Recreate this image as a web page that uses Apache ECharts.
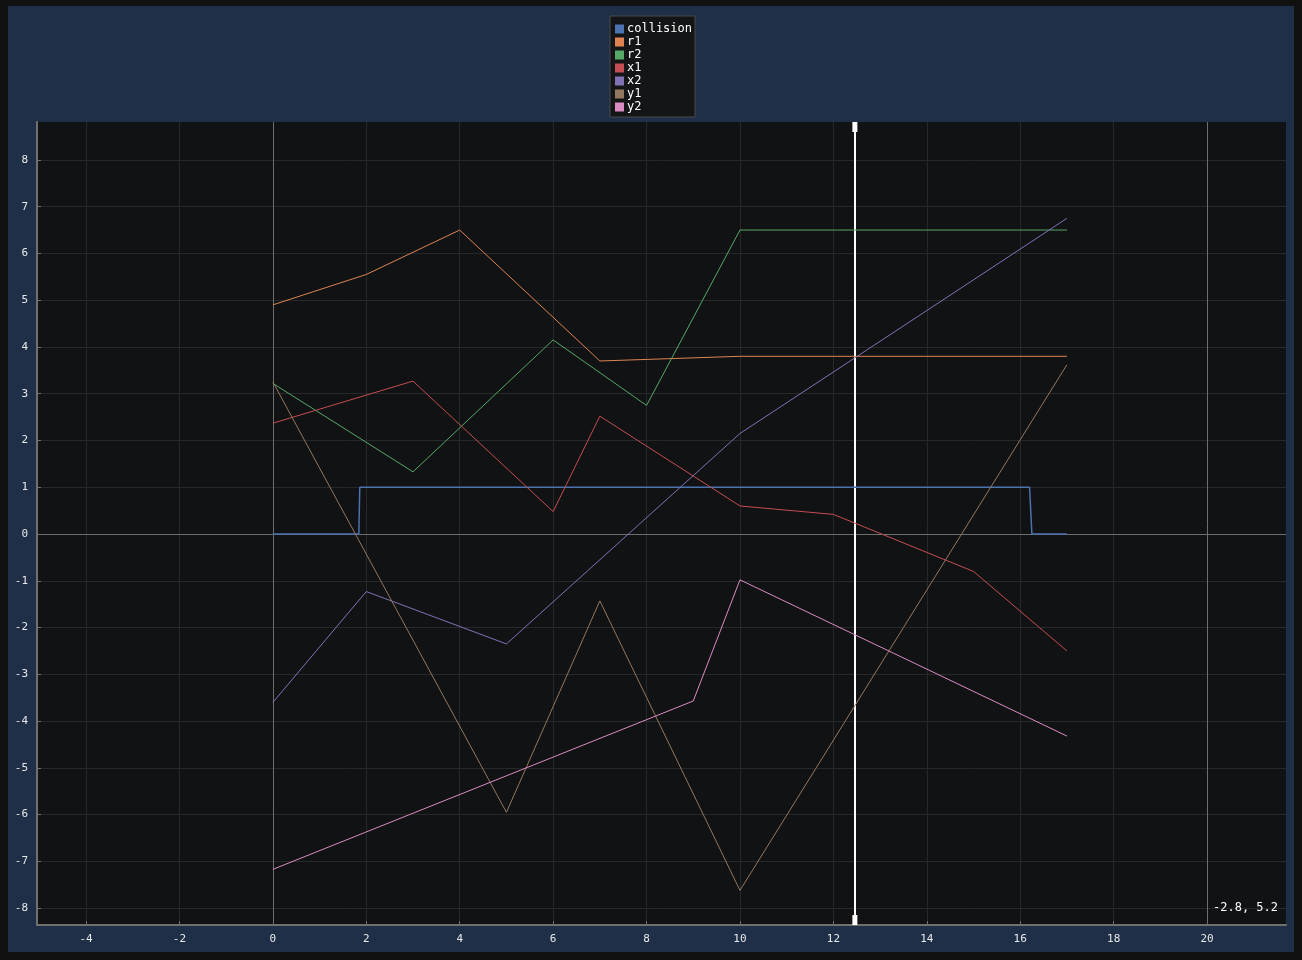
<!DOCTYPE html>
<html><head><meta charset="utf-8">
<script src="https://cdn.jsdelivr.net/npm/echarts@6/dist/echarts.min.js"></script>
<style>html,body{margin:0;padding:0;background:#111111;}#c{width:1302px;height:960px;}</style>
</head><body><div id="c"></div>
<script>
const seriesNames = ['collision','r1','r2','x1','x2','y1','y2'];
const colors = ['#4c72b0','#dd8452','#55a868','#c44e52','#8172b3','#937860','#da8bc3'];
const collision = [[0,0],[1.84,0],[1.86,1],[16.2,1],[16.25,0],[17,0]];
const r1 = [[0,4.9],[2,5.55],[4,6.5],[7,3.7],[10,3.8],[17,3.8]];
const r2 = [[0,3.22],[3,1.33],[6,4.15],[8,2.75],[10,6.5],[17,6.5]];
const x1 = [[0,2.37],[3,3.27],[6,0.48],[7,2.52],[10,0.6],[12,0.42],[15,-0.8],[17,-2.5]];
const x2 = [[0,-3.6],[2,-1.23],[5,-2.35],[10,2.15],[17,6.75]];
const y1 = [[0,3.25],[5,-5.95],[7,-1.43],[10,-7.62],[17,3.62]];
const y2 = [[0,-7.17],[9,-3.57],[10,-0.98],[17,-4.32]];
const xTicks = [-4,-2,0,2,4,6,8,10,12,14,16,18,20];
const yTicks = [-8,-7,-6,-5,-4,-3,-2,-1,0,1,2,3,4,5,6,7,8];
const xRange = [-5.05, 21.69];
const yRange = [-8.36, 8.81];
const cursorX = 12.46;
const cursorText = '-2.8, 5.2';
const refLinesX = [0, 20];
const refLinesY = [0];

const data = [collision, r1, r2, x1, x2, y1, y2];
const font = 'DejaVu Sans Mono';

const series = seriesNames.map((n, i) => ({
  name: n, type: 'line', data: data[i], showSymbol: false, symbol: 'none',
  lineStyle: {width: i === 0 ? 1.5 : 1, color: colors[i]}, itemStyle: {color: colors[i]},
  animation: false, z: 5
}));
series.push({
  name: '_ref', type: 'line', data: [], silent: true, animation: false,
  markLine: {
    silent: true, symbol: 'none', animation: false, label: {show: false},
    lineStyle: {color: '#6e6e6e', width: 1, type: 'solid'},
    data: refLinesX.map(v => ({xAxis: v})).concat(refLinesY.map(v => ({yAxis: v})))
  }, z: 2
});
series.push({
  name: '_cursor', type: 'line', data: [], silent: true, animation: false,
  markLine: {
    silent: true, symbol: 'none', animation: false, label: {show: false},
    lineStyle: {color: '#ffffff', width: 2, type: 'solid'},
    data: [{xAxis: cursorX}]
  },
  markPoint: {
    silent: true, animation: false, label: {show: false},
    symbol: 'rect', symbolSize: [5, 10], itemStyle: {color: '#ffffff'},
    data: [{coord: [cursorX, yRange[1]], symbolOffset: [0, 5]}, {coord: [cursorX, yRange[0]], symbolOffset: [0, -5]}]
  }, z: 10
});

const chart = echarts.init(document.getElementById('c'), null, {renderer: 'canvas'});
chart.setOption({
  backgroundColor: '#111111',
  animation: false,
  graphic: [
    {type: 'rect', shape: {x: 8, y: 6, width: 1286, height: 946}, style: {fill: '#1f2f48'}, z: -100, silent: true},
    {type: 'text', left: 1213, top: 902, style: {text: cursorText, fill: '#ffffff', font: '12px "' + font + '"'}, z: 100, silent: true}
  ],
  legend: {
    top: 16, left: 610, orient: 'vertical', itemGap: 1,
    itemWidth: 9, itemHeight: 9, icon: 'rect',
    backgroundColor: '#141517', borderColor: '#4a4a4a', borderWidth: 1,
    padding: [7, 3, 4, 5],
    textStyle: {color: '#ffffff', fontFamily: font, fontSize: 12, padding: [0, 0, 0, -2]},
    data: seriesNames
  },
  grid: {left: 37, right: 16, top: 122, bottom: 35, show: true, backgroundColor: '#111214', borderWidth: 0, containLabel: false},
  xAxis: {
    type: 'value', min: xRange[0], max: xRange[1],
    axisLine: {show: true, onZero: false, lineStyle: {color: '#707070', width: 2}},
    axisTick: {show: true, inside: true, length: 4, customValues: xTicks, lineStyle: {color: '#707070'}},
    axisLabel: {customValues: xTicks, color: '#e8e8e8', fontFamily: font, fontSize: 11, margin: 9},
    splitLine: {show: true, lineStyle: {color: '#272829', width: 1}}
  },
  yAxis: {
    type: 'value', min: yRange[0], max: yRange[1],
    axisLine: {show: true, onZero: false, lineStyle: {color: '#707070', width: 2}},
    axisTick: {show: true, inside: true, length: 4, customValues: yTicks, lineStyle: {color: '#707070'}},
    axisLabel: {customValues: yTicks, color: '#e8e8e8', fontFamily: font, fontSize: 11, margin: 9},
    splitLine: {show: true, lineStyle: {color: '#272829', width: 1}}
  },
  series: series
});
</script></body></html>
